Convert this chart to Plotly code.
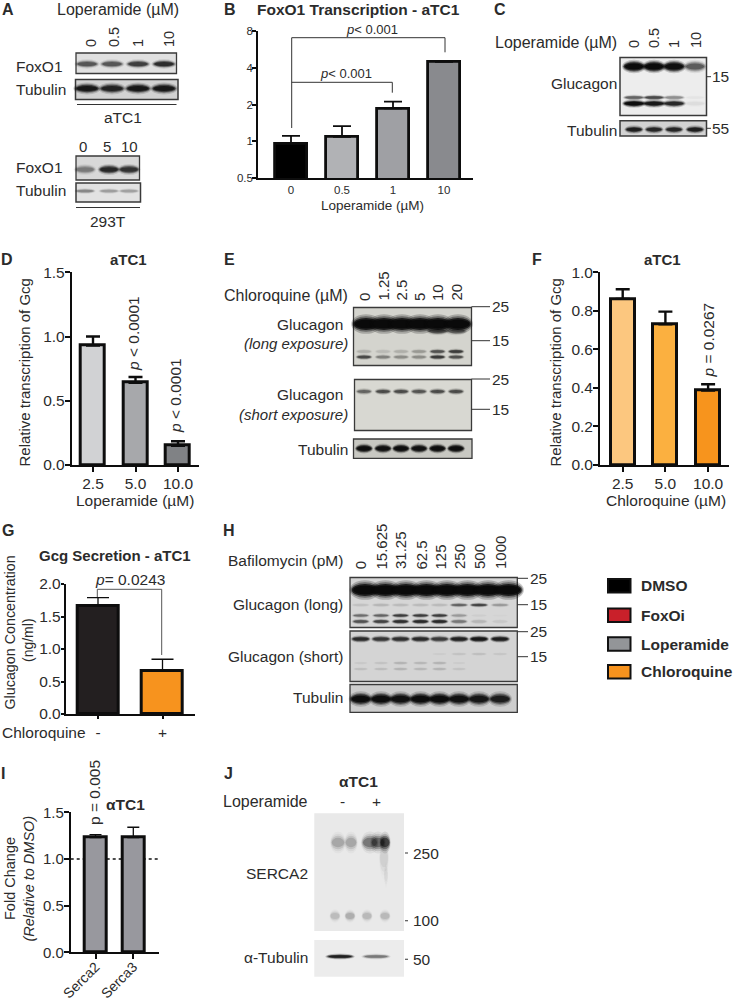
import plotly.graph_objects as go

# ---------- chart values ----------
B_labels = ["0", "0.5", "1", "10"]
B_values = [0.96, 1.09, 1.86, 4.45]
B_errors = [0.15, 0.24, 0.25, 0.0]
D_labels = ["2.5", "5.0", "10.0"]
D_values = [0.93, 0.64, 0.15]
D_errors = [0.07, 0.045, 0.035]
F_labels = ["2.5", "5.0", "10.0"]
F_values = [0.862, 0.73, 0.386]
F_errors = [0.05, 0.066, 0.033]
G_labels = ["-", "+"]
G_values = [1.66, 0.667]
G_errors = [0.13, 0.175]
I_labels = ["Serca2", "Serca3"]
I_values = [1.23, 1.23]
I_errors = [0.03, 0.11]
legend_names = ["DMSO", "FoxOi", "Loperamide", "Chloroquine"]

# band darkness per lane for the western blots
A_foxo1_atc1 = [0.55, 0.55, 0.7, 0.85]
A_tub_atc1 = [1.1, 0.95, 1.1, 1.1]
A_foxo1_293 = [0.35, 0.9, 0.8]
A_tub_293 = [0.3, 0.22, 0.2]
C_glu_top = [1.4, 1.4, 1.3, 0.55]
C_glu_mid = [0.5, 0.65, 0.3, 0.02]
C_glu_low = [1.3, 1.1, 0.9, 0.04]
C_tub = [1.0, 0.9, 0.9, 1.0]
E_long_top = [1.6, 1.6, 1.6, 1.6, 1.6, 1.6]
E_long_mid = [0.12, 0.08, 0.12, 0.2, 0.55, 0.7]
E_long_low = [0.6, 0.3, 0.25, 0.25, 0.7, 0.55]
E_short = [0.45, 0.6, 0.6, 0.55, 0.6, 0.6]
E_tub = [1.3, 1.2, 1.3, 1.2, 1.3, 1.3]
H_long_top = [1.6, 1.6, 1.6, 1.6, 1.6, 1.6, 1.6, 1.6]
H_long_15 = [0.06, 0.1, 0.08, 0.08, 0.08, 0.45, 0.65, 0.2]
H_long_mid = [0.4, 0.45, 0.7, 0.7, 0.7, 0.2, 0.02, 0.01]
H_long_low = [0.55, 0.65, 0.8, 0.85, 0.85, 0.35, 0.1, 0.04]
H_short_top = [0.85, 0.75, 0.8, 0.85, 0.7, 0.95, 1.1, 1.0]
H_short_mid = [0.03, 0.05, 0.1, 0.09, 0.1, 0.02, 0.0, 0.0]
H_short_low = [0.06, 0.07, 0.1, 0.09, 0.1, 0.05, 0.0, 0.0]
H_short_15 = [0.0, 0.0, 0.0, 0.0, 0.02, 0.05, 0.06, 0.04]
H_tub = [1.3, 1.3, 1.2, 1.3, 1.3, 1.2, 1.1, 1.0]
J_serca_top = [0.2, 0.2, 0.4, 0.45, 0.7]
J_serca_low = [0.13, 0.18, 0.14, 0.14]
J_tub = [1.0, 0.4]

# ---------- page geometry and styles ----------
W, H = 733, 1006
FONT = "Liberation Sans"
INK = "#2b2b2b"
OVX, OVY = "x20", "y20"   # full-page overlay axes measured in page pixels

fig = go.Figure()
shapes, notes = [], []
axis_count = [0]

def text(x, y, s, size=15.5, anchor="center", bold=False, italic=False, angle=0, v="middle", color=INK):
    if italic:
        s = f"<i>{s}</i>"
    if bold:
        s = f"<b>{s}</b>"
    notes.append(dict(x=x, y=y, xref=OVX, yref=OVY, text=s, showarrow=False,
                      xanchor=anchor, yanchor=v, textangle=angle, borderpad=0, borderwidth=0,
                      font=dict(family=FONT, size=size, color=color)))

def line(x0, y0, x1, y1, color="#333", w=1.0):
    shapes.append(dict(type="line", xref=OVX, yref=OVY, x0=x0, x1=x1, y0=y0, y1=y1,
                       line=dict(color=color, width=w)))

def rect(x0, y0, x1, y1, fill, border="#3a3a3a", w=1.3):
    shapes.append(dict(type="rect", xref=OVX, yref=OVY, x0=x0, x1=x1, y0=y0, y1=y1,
                       fillcolor=fill, line=dict(color=border, width=w)))

def band(cx, cy, w, h, level):
    if level <= 0:
        return
    for sx, sy, op in ((1.14, 1.7, 0.14), (1.06, 1.35, 0.25), (0.98, 1.05, 0.5), (0.88, 0.72, 0.7)):
        ww, hh = w * sx / 2, h * sy / 2
        shapes.append(dict(type="circle", xref=OVX, yref=OVY, x0=cx - ww, x1=cx + ww,
                           y0=cy - hh, y1=cy + hh, fillcolor="#0a0a0a",
                           opacity=min(1, op * level), line=dict(width=0)))

def lane_bands(lanes, cy, w, h, levels):
    for c, lv in zip(lanes, levels):
        band(c, cy, w, h, lv)

def bar_panel(left, right, top, bottom, c0, step, bar_w, labels, values, errors, colors,
              yrange, yticks, ytext, tick_size=15.5, log=False, line_w=3.0, axis_w=1.8, cap=7, err_w=2.4,
              x_angle=0, x_len=5, y_len=5, x_off=-2, y_off=-3, x_size=None):
    axis_count[0] += 1
    n = axis_count[0]
    xn, yn = ("x", "y") if n == 1 else (f"x{n}", f"y{n}")
    xa, ya = ("xaxis", "yaxis") if n == 1 else (f"xaxis{n}", f"yaxis{n}")
    pos = list(range(len(values)))
    fig.add_trace(go.Bar(x=pos, y=values, width=(bar_w - line_w) / step, xaxis=xn, yaxis=yn,
                         marker=dict(color=colors, line=dict(color="#0d0d0d", width=line_w)),
                         error_y=dict(type="data", symmetric=False, array=errors, arrayminus=[0] * len(values),
                                      color="#0d0d0d", thickness=err_w, width=cap),
                         showlegend=False, hoverinfo="skip"))
    x0 = (left - c0) / step
    x1 = (right - c0) / step
    fig.update_layout(**{
        xa: dict(domain=[left / W, right / W], anchor=yn, range=[x0, x1], tickmode="array", tickvals=pos,
                 ticktext=labels, showline=True, linecolor="#0d0d0d", linewidth=axis_w,
                 ticks="outside" if x_len else "", ticklen=x_len, tickwidth=axis_w, tickcolor="#0d0d0d",
                 ticklabelstandoff=x_off, showgrid=False, zeroline=False,
                 tickangle=x_angle, tickfont=dict(family=FONT, size=x_size or tick_size, color=INK)),
        ya: dict(domain=[1 - bottom / H, 1 - top / H], anchor=xn, range=yrange, type="log" if log else "linear",
                 tickmode="array", tickvals=yticks, ticktext=ytext, showline=True, linecolor="#0d0d0d",
                 linewidth=axis_w, ticks="outside", ticklen=y_len, tickwidth=axis_w, tickcolor="#0d0d0d",
                 ticklabelstandoff=y_off, showgrid=False, zeroline=False,
                 tickfont=dict(family=FONT, size=tick_size, color=INK)),
    })
    return xn, yn

# ---------- panel letters ----------
for s, x, y in (("A", 8, 9), ("B", 230, 9), ("C", 500, 9), ("D", 7, 259), ("E", 229, 259), ("F", 537, 259),
                ("G", 8, 530), ("H", 229, 530), ("I", 3, 773), ("J", 228, 773)):
    text(x, y, s, size=16, bold=True)

# ---------- A ----------
text(118, 9, "Loperamide (µM)", size=16)
for c, s in zip((91, 114, 138, 169), B_labels):
    text(c, 47, s, size=14.5, angle=-90, v="bottom")
rect(76, 53, 176.5, 73.5, "#e0e0e0")
rect(75.5, 79.5, 178, 99.5, "#d2d2d2", w=1.5)
laneA = (87, 112, 138, 164)
lane_bands(laneA, 64, 22, 5.5, A_foxo1_atc1)
lane_bands(laneA, 88.5, 24, 7, A_tub_atc1)
for y, s in ((66.5, "FoxO1"), (89, "Tubulin")):
    text(15.5, y, s, anchor="left")
line(77, 104.5, 176.5, 104.5)
text(123, 117, "aTC1")
for c, s in zip((83, 106.5, 129.5), ("0", "5", "10")):
    text(c, 146.5, s, size=15)
rect(76, 156, 139.5, 180, "#d8d8d8")
rect(76, 183, 140.5, 202, "#e2e2e2", w=1.5)
laneA2 = (85, 109, 129)
lane_bands(laneA2, 169.5, 20, 6.5, A_foxo1_293)
lane_bands(laneA2, 191, 19, 3.5, A_tub_293)
for y, s in ((167.5, "FoxO1"), (190, "Tubulin")):
    text(15.5, y, s, anchor="left")
line(76, 207.5, 140, 207.5)
text(108, 221, "293T")

# ---------- B ----------
bar_panel(258, 473, 30.7, 178.3, 291, 51, 35, B_labels, B_values, B_errors,
          ["#000000", "#b1b2b5", "#9fa0a4", "#898a8e"], [-0.30103, 0.90309], [0.5, 1, 2, 4, 8],
          ["0.5", "1", "2", "4", "8"], tick_size=11.5, log=True, line_w=2.8, axis_w=1.5, cap=9, err_w=1.8,
          x_len=0, y_len=4, x_off=0, y_off=-3)
text(358, 9, "FoxO1 Transcription - aTC1", size=15.5, bold=True)
text(372.5, 205.5, "Loperamide (µM)", size=13.5)
line(291.7, 128, 291.7, 37.7); line(291.7, 37.7, 445, 37.7); line(445, 37.7, 445, 52.3)
line(291.7, 82.3, 392.3, 82.3); line(392.3, 82.3, 392.3, 92.7)
text(372, 29, "<i>p</i>< 0.001", size=13)
text(346, 73, "<i>p</i>< 0.001", size=13)

# ---------- C ----------
text(495, 42, "Loperamide (µM)", anchor="left", size=16)
for c, s in zip((634, 654, 674, 696), B_labels):
    text(c, 48, s, size=14.5, angle=-90, v="bottom")
rect(620, 57.5, 706.5, 115.5, "#ededed", w=1.5)
rect(620, 120.7, 706.5, 136, "#d2d2d2", w=1.5)
laneC = (634, 654, 674, 695)
lane_bands(laneC, 66.5, 21, 8, C_glu_top)
lane_bands(laneC, 97.5, 20, 3.5, C_glu_mid)
lane_bands(laneC, 103.5, 21, 5, C_glu_low)
lane_bands(laneC, 129.5, 17, 5, C_tub)
text(616.5, 83, "Glucagon", anchor="right", size=15.5)
text(616.5, 130.5, "Tubulin", anchor="right", size=15.5)
line(706.5, 76.7, 711, 76.7); line(706.5, 128.3, 711, 128.3)
text(712, 76.5, "15", anchor="left"); text(712, 128.3, "55", anchor="left")

# ---------- D ----------
bar_panel(71.7, 199, 272.3, 465, 93, 42.5, 27, D_labels, D_values, D_errors,
          ["#d1d2d4", "#a7a8ab", "#808285"], [0, 1.5], [0, 0.5, 1, 1.5], ["0.0", "0.5", "1.0", "1.5"])
text(128, 259, "aTC1", size=15, bold=True)
text(135, 500, "Loperamide (µM)", size=15.5)
text(24, 372.5, "Relative transcription of Gcg", size=15, angle=-90)
text(133, 334, "<i>p</i> < 0.0001", size=15.5, angle=-90)
text(175, 396, "<i>p</i> < 0.0001", size=15.5, angle=-90)

# ---------- E ----------
text(347.7, 295.7, "Chloroquine (µM)", anchor="right", size=16)
for c, s in zip((364, 383, 401, 419, 437.5, 456), ("0", "1.25", "2.5", "5", "10", "20")):
    text(c, 301, s, size=15, angle=-90, v="bottom")
rect(353.5, 307.5, 471.5, 365.5, "#d4d4ce")
rect(354.5, 379.5, 471.5, 430.5, "#d8d8d2")
rect(353.5, 439, 472, 458.3, "#c8c8c2")
laneE = (364, 383, 401, 419, 437.5, 456)
lane_bands((366, 384, 402, 420, 438, 458), 324, 26, 11.5, E_long_top)
band(437.5, 331, 20, 5, 0.5); band(456, 331, 20, 5, 0.4)
lane_bands(laneE, 351.5, 15, 3.5, E_long_mid)
lane_bands(laneE, 357, 15, 3.5, E_long_low)
lane_bands(laneE, 391.5, 15, 4, E_short)
lane_bands(laneE, 448.5, 16, 6, E_tub)
text(342.7, 324, "Glucagon", anchor="right")
text(347.7, 343, "(long exposure)", anchor="right", italic=True, size=15)
text(342.7, 394, "Glucagon", anchor="right")
text(347.7, 414, "(short exposure)", anchor="right", italic=True, size=15)
text(347.7, 449, "Tubulin", anchor="right")
for y in (306.7, 340.7, 379, 409.3):
    line(471.5, y, 490, y)
for y, s in ((306.7, "25"), (340.7, "15"), (379, "25"), (409.3, "15")):
    text(492, y, s, anchor="left")

# ---------- F ----------
bar_panel(600, 729, 272.3, 465, 622.7, 42.7, 27, F_labels, F_values, F_errors,
          ["#fcc77f", "#fbb040", "#f7941d"], [0, 1.0], [0, 0.2, 0.4, 0.6, 0.8, 1.0],
          ["0.0", "0.2", "0.4", "0.6", "0.8", "1.0"])
text(662, 259, "aTC1", size=15, bold=True)
text(666, 500, "Chloroquine (µM)", size=15.5)
text(555, 372.5, "Relative transcription of Gcg", size=15, angle=-90)
text(707.5, 340, "<i>p</i> = 0.0267", size=15.5, angle=-90)

# ---------- G ----------
bar_panel(65.7, 195, 584, 714, 98, 64.5, 44, G_labels, G_values, G_errors,
          ["#231f20", "#f7931e"], [0, 2.0], [0, 0.5, 1, 1.5, 2], ["0.0", "0.5", "1.0", "1.5", "2.0"],
          cap=11, err_w=1.3, x_len=3, y_len=3, x_off=0, y_off=-3)
text(115, 555, "Gcg Secretion - aTC1", size=15, bold=True)
text(2, 732, "Chloroquine", anchor="left", size=15.5)
text(9.5, 633, "Glucagon Concentration", size=14.3, angle=-90)
text(28, 640, "(ng/ml)", size=14, angle=-90)
line(97.3, 597, 97.3, 589.3, "#555"); line(97.3, 589.3, 161.7, 589.3, "#555"); line(161.7, 589.3, 161.7, 655, "#555")
text(130, 579, "<i>p</i>= 0.0243", size=15.5)

# ---------- H ----------
laneH = (360.7, 381, 400.5, 420.5, 439.5, 459, 479, 500)
for c, s in zip(laneH, ("0", "15.625", "31.25", "62.5", "125", "250", "500", "1000")):
    text(c, 569.5, s, size=15, angle=-90, v="bottom")
rect(350, 577.5, 517.3, 627.5, "#d6d6d6")
rect(350, 631, 517.3, 681.5, "#d4d4d4")
rect(350, 684.5, 517.3, 712.3, "#cdcdcd")
lane_bands([365 + 20.5 * i for i in range(8)], 590, 27, 11.5, H_long_top)
lane_bands(laneH, 605, 17, 3, H_long_15)
lane_bands(laneH, 615.5, 16, 3, H_long_mid)
lane_bands(laneH, 621.5, 16, 3.5, H_long_low)
lane_bands(laneH, 639, 18, 4.5, H_short_top)
lane_bands(laneH, 654, 15, 2.5, H_short_15)
lane_bands(laneH, 663, 14, 2.5, H_short_mid)
lane_bands(laneH, 669, 14, 2.5, H_short_low)
lane_bands(laneH, 699, 21, 9, H_tub)
text(343.3, 560, "Bafilomycin (pM)", anchor="right")
text(343.3, 604, "Glucagon (long)", anchor="right")
text(343.3, 656, "Glucagon (short)", anchor="right")
text(343.3, 697, "Tubulin", anchor="right")
for y, s in ((578.3, "25"), (604.7, "15"), (631.7, "25"), (656.7, "15")):
    line(517.3, y, 528, y)
    text(529.5, y, s, anchor="left")

# ---------- I ----------
xn, yn = bar_panel(70.7, 159, 812.3, 952.3, 95.5, 37.8, 25, I_labels, I_values, I_errors,
                   ["#98989e", "#98989e"], [0, 1.5], [0, 0.5, 1, 1.5], ["0.0", "0.5", "1.0", "1.5"],
                   cap=6, err_w=1.3, x_angle=-45, tick_size=15, x_size=14, x_off=-6)
shapes.append(dict(type="line", xref=xn + " domain", yref=yn, x0=0, x1=1, y0=1, y1=1, layer="below",
                   line=dict(color="#111", width=1.5, dash="dot")))
text(125, 804, "αTC1", size=15.5, bold=True)
text(94, 793, "p = 0.005", size=15.5, angle=-90)
text(10, 879, "Fold Change", size=14.5, angle=-90)
text(28.5, 879, "(Relative to DMSO)", size=14.5, angle=-90, italic=True)

# ---------- J ----------
text(358, 781.5, "αTC1", size=15.5, bold=True)
text(308.3, 801.5, "Loperamide", anchor="right", size=16)
text(342, 801, "-"); text(376, 801, "+")
rect(314.3, 813.3, 404, 931, "#e9e9e9", border="#e9e9e9", w=0)
rect(314.3, 940, 404, 976.7, "#ececec", border="#ececec", w=0)
for c, wd, lv in zip((338, 351, 370, 378, 385), (14, 12, 16, 14, 10), J_serca_top):
    band(c, 842.5, wd, 13, lv)
band(384, 858, 9, 26, 0.07)
band(386, 875, 4, 18, 0.04)
for c, lv in zip((335, 350, 367, 385), J_serca_low):
    band(c, 916, 10, 8, lv)
lane_bands((340, 376), 956.5, 26, 3.5, J_tub)
text(308.3, 873.3, "SERCA2", anchor="right")
text(308.3, 957.7, "α-Tubulin", anchor="right")
for y, s in ((853, "250"), (920.7, "100"), (959.3, "50")):
    line(405, y, 408, y, "#555", 1.2)
    text(412.5, y, s, anchor="left")

# ---------- legend ----------
legend_colors = ["#000000", "#c9202a", "#939598", "#f7931e"]
for name, col, y0 in zip(legend_names, legend_colors, (579, 608.5, 637.3, 665)):
    rect(608, y0, 630.5, y0 + 13.5, col, border="#111", w=2)
    text(641, y0 + 6.8, name, anchor="left", bold=True, size=15.5)

# overlay axes that give every label and blot a page-pixel position
fig.add_trace(go.Scatter(x=[0], y=[0], xaxis=OVX, yaxis=OVY, mode="markers", marker=dict(opacity=0, size=1),
                         showlegend=False, hoverinfo="skip"))
fig.update_layout(
    xaxis20=dict(domain=[0, 1], range=[0, W], visible=False, anchor=OVY, fixedrange=True),
    yaxis20=dict(domain=[0, 1], range=[H, 0], visible=False, anchor=OVX, fixedrange=True),
    width=W, height=H, margin=dict(l=0, r=0, t=0, b=0, autoexpand=False), paper_bgcolor="white",
    plot_bgcolor="rgba(0,0,0,0)", shapes=shapes, annotations=notes, bargap=0, showlegend=False,
    font=dict(family=FONT, color=INK))
fig.write_html("out.html", config={"displayModeBar": False},
               post_script="document.body.style.margin='0';document.documentElement.style.overflow='hidden';")
